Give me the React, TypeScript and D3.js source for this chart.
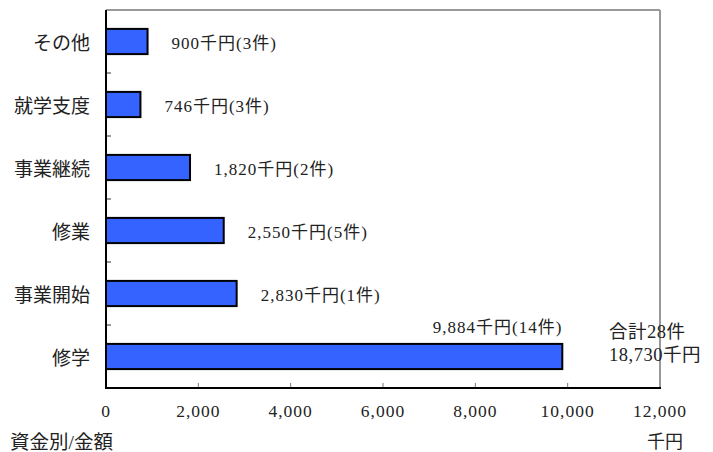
import React from "react";
import * as d3 from "d3";

const categories = ["その他", "就学支度", "事業継続", "修業", "事業開始", "修学"];
const amounts = [900, 746, 1820, 2550, 2830, 9884];
const counts = [3, 3, 2, 5, 1, 14];
const xTicks = [0, 2000, 4000, 6000, 8000, 10000, 12000];
const totalLines = ["合計28件", "18,730千円"];

const W = 713;
const H = 452;
const left = 106;
const right = 660;
const top = 10;
const bottom = 388;
const FONT = "'Liberation Serif', 'Noto Sans CJK JP', serif";
const INK = "#222";

export default function App() {
  const x = d3.scaleLinear().domain([0, 12000]).range([left, right]);
  const y = d3.scaleBand<string>().domain(categories).range([top, bottom]).paddingInner(0.6).paddingOuter(0.3);
  const band = d3.scaleBand<string>().domain(categories).range([top, bottom]);
  const fmt = d3.format(",");
  const last = categories.length - 1;
  const label = (i: number) => `${fmt(amounts[i])}千円(${counts[i]}件)`;

  return (
    <svg width={W} height={H} style={{ position: "absolute", left: 0, top: 0, background: "#fff" }} fontFamily={FONT}>
      {/* frame: grey top/right, black left/bottom axes */}
      <line x1={left} y1={top} x2={right} y2={top} stroke="#999" strokeWidth={2} />
      <line x1={right} y1={top} x2={right} y2={bottom} stroke="#999" strokeWidth={2} />

      {/* x ticks pointing inward */}
      {xTicks.slice(1, -1).map((t) => (
        <line key={t} x1={x(t)} x2={x(t)} y1={bottom} y2={bottom - 5} stroke="#777" strokeWidth={1} />
      ))}
      {/* y ticks at band boundaries */}
      {categories.slice(1).map((c) => (
        <line key={c} x1={left} x2={left + 5} y1={band(c)!} y2={band(c)!} stroke="#333" strokeWidth={1} />
      ))}

      {categories.map((c, i) => (
        <rect
          key={c}
          x={x(0)}
          y={y(c)!}
          width={x(amounts[i]) - x(0)}
          height={y.bandwidth()}
          fill="#3563ff"
          stroke="#000"
          strokeWidth={2}
        />
      ))}

      <line x1={left} y1={top} x2={left} y2={bottom + 1} stroke="#000" strokeWidth={2} />
      <line x1={left - 1} y1={bottom} x2={right + 1} y2={bottom} stroke="#000" strokeWidth={2} />

      {categories.map((c) => (
        <text key={c} x={90} y={y(c)! + y.bandwidth() / 2 + 1.5} textAnchor="end" dominantBaseline="central" fontSize={19} fill={INK}>
          {c}
        </text>
      ))}

      {categories.map((c, i) =>
        i === last ? (
          <text key={c} x={x(amounts[i])} y={y(c)! - 16} textAnchor="end" dominantBaseline="central" fontSize={17} letterSpacing={1} fill={INK}>
            {label(i)}
          </text>
        ) : (
          <text key={c} x={x(amounts[i]) + 24} y={y(c)! + y.bandwidth() / 2 + 2} dominantBaseline="central" fontSize={17} letterSpacing={1} fill={INK}>
            {label(i)}
          </text>
        )
      )}

      {totalLines.map((t, i) => (
        <text key={t} x={609} y={332 + i * 23} dominantBaseline="central" fontSize={18.5} letterSpacing={0.5} fill={INK}>
          {t}
        </text>
      ))}

      {xTicks.map((t) => (
        <text key={t} x={x(t)} y={411} textAnchor="middle" dominantBaseline="central" fontSize={17.5} letterSpacing={1} fill={INK}>
          {fmt(t)}
        </text>
      ))}

      <text x={10} y={442} dominantBaseline="central" fontSize={19.5} fill={INK}>資金別/金額</text>
      <text x={665} y={442} textAnchor="middle" dominantBaseline="central" fontSize={18} fill={INK}>千円</text>
    </svg>
  );
}
